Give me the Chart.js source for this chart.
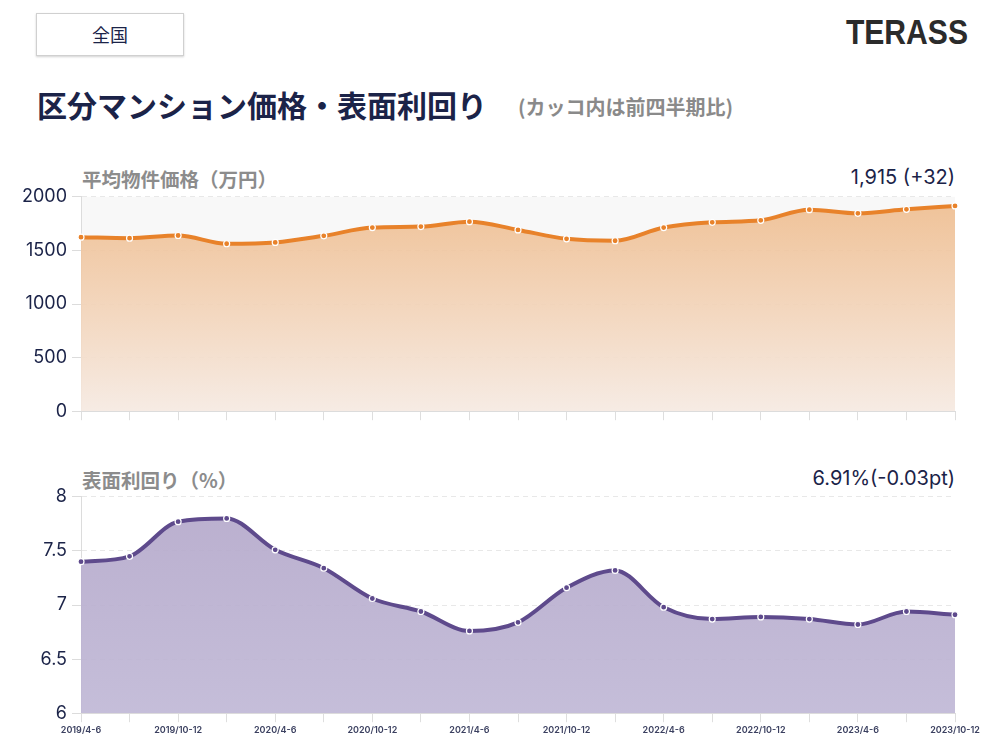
<!DOCTYPE html>
<html lang="ja">
<head>
<meta charset="utf-8">
<script src="https://cdn.jsdelivr.net/npm/chart.js@4.4.1/dist/chart.umd.min.js"></script>
<style>
  html, body { margin: 0; padding: 0; background: #fff; }
  body { width: 994px; height: 752px; position: relative; overflow: hidden;
         font-family: "Inter", "Noto Sans CJK JP", sans-serif; }
  .abs { position: absolute; white-space: nowrap; }
  #area { left: 36px; top: 13px; width: 146px; height: 41px; border: 1.5px solid #d0d0d0;
          box-shadow: 0 1px 2px rgba(0,0,0,0.18); text-align: center; line-height: 41px;
          font-size: 18px; color: #1b2348; font-family: "Noto Sans CJK JP", sans-serif; }
  #logo { right: 26px; top: 12px; font-family: "Liberation Sans", sans-serif; font-weight: bold;
          font-size: 35px; color: #2b2b2b; transform: scaleX(0.86); transform-origin: right; }
  #title { left: 37px; top: 82px; font-size: 30px; font-weight: bold; color: #1b2348;
           font-family: "Noto Sans CJK JP", sans-serif; }
  #sub { left: 518px; top: 92px; font-size: 20px; font-weight: bold; color: #8a8a8a;
         font-family: "Noto Sans CJK JP", sans-serif; }
  .stitle { left: 82px; font-size: 19.5px; font-weight: bold; color: #8c8c8c;
            font-family: "Noto Sans CJK JP", sans-serif; }
  .sval { right: 39px; font-size: 20px; color: #1b2348; }
  .wrap { position: absolute; left: 10px; width: 977px; }
</style>
</head>
<body>
<div class="abs" id="area">全国</div>
<div class="abs" id="logo">TERASS</div>
<div class="abs" id="title">区分マンション価格・表面利回り</div>
<div class="abs" id="sub">(カッコ内は前四半期比)</div>

<div class="abs stitle" style="top:164px">平均物件価格（万円）</div>
<div class="abs sval" style="top:165px">1,915 (+32)</div>
<div class="wrap" style="top:181px;height:246px"><canvas id="priceChart"></canvas></div>

<div class="abs stitle" style="top:465px">表面利回り（%）</div>
<div class="abs sval" style="top:466px">6.91%(-0.03pt)</div>
<div class="wrap" style="top:481px;height:258px"><canvas id="yieldChart"></canvas></div>

<script>
// 四半期ラベル
const quarters = [
  '2019/4-6', '2019/7-9', '2019/10-12', '2020/1-3', '2020/4-6', '2020/7-9', '2020/10-12',
  '2021/1-3', '2021/4-6', '2021/7-9', '2021/10-12', '2022/1-3', '2022/4-6', '2022/7-9',
  '2022/10-12', '2023/1-3', '2023/4-6', '2023/7-9', '2023/10-12'
];

// 平均物件価格（万円）
const prices = [1623, 1614, 1639, 1562, 1574, 1636, 1713, 1722, 1768, 1691,
                1608, 1590, 1713, 1762, 1781, 1880, 1846, 1883, 1915];

// 表面利回り（%）
const yields = [7.40, 7.45, 7.77, 7.80, 7.51, 7.34, 7.06, 6.94, 6.76, 6.84,
                7.16, 7.32, 6.98, 6.87, 6.89, 6.87, 6.82, 6.94, 6.91];

const priceTicks = [0, 500, 1000, 1500, 2000];
const yieldTicks = [6, 6.5, 7, 7.5, 8];

const navy = '#1b2348';
const orange = '#e8822a';
const purple = '#5e4a8c';

// チャートエリアの背景
const areaBg = {
  id: 'areaBg',
  beforeDraw(chart, args, opts) {
    if (!opts.color) return;
    const { ctx, chartArea: a } = chart;
    ctx.save();
    ctx.fillStyle = opts.color;
    ctx.fillRect(a.left, a.top, a.right - a.left, a.bottom - a.top);
    ctx.restore();
  }
};

function makeOptions(tickList, showLabels, bg) {
  return {
    animation: false,
    responsive: true,
    maintainAspectRatio: false,
    layout: { padding: { top: 12, right: 32, left: 0, bottom: 0 } },
    plugins: {
      legend: { display: false },
      tooltip: { enabled: false },
      areaBg: { color: bg }
    },
    scales: {
      x: {
        grid: { drawOnChartArea: false, drawTicks: true, tickLength: 9, color: '#dedede' },
        border: { display: true, color: '#dcdcdc' },
        ticks: {
          display: showLabels,
          autoSkip: false,
          maxRotation: 0,
          minRotation: 0,
          padding: 3,
          color: '#3b4060',
          font: { family: 'Inter', size: 9, weight: '600' },
          callback: (v, i) => (i % 2 === 0 ? quarters[i] : '')
        }
      },
      y: {
        min: tickList[0],
        max: tickList[tickList.length - 1],
        afterFit: s => { s.width = 71; },
        afterBuildTicks: s => { s.ticks = tickList.map(v => ({ value: v })); },
        grid: { color: '#e8e8e8', tickLength: 9, tickColor: '#dcdcdc' },
        border: { display: true, color: '#dcdcdc', dash: [5, 4] },
        ticks: {
          padding: 5,
          color: navy,
          font: { family: 'Inter', size: 18 },
          callback: v => String(v)
        }
      }
    }
  };
}

new Chart(document.getElementById('priceChart'), {
  type: 'line',
  data: {
    labels: quarters,
    datasets: [{
      data: prices,
      borderColor: orange,
      borderWidth: 4,
      cubicInterpolationMode: 'monotone',
      fill: 'origin',
      pointRadius: 3,
      pointBorderWidth: 1.2,
      pointBorderColor: '#fff',
      pointBackgroundColor: orange,
      backgroundColor: (c) => {
        const a = c.chart.chartArea;
        if (!a) return 'rgba(240,192,150,0.9)';
        const g = c.chart.ctx.createLinearGradient(0, a.top, 0, a.bottom);
        g.addColorStop(0, 'rgba(238,184,134,0.85)');
        g.addColorStop(1, 'rgba(246,234,226,0.9)');
        return g;
      }
    }]
  },
  options: makeOptions(priceTicks, false, '#f8f8f8'),
  plugins: [areaBg]
});

new Chart(document.getElementById('yieldChart'), {
  type: 'line',
  data: {
    labels: quarters,
    datasets: [{
      data: yields,
      borderColor: purple,
      borderWidth: 4,
      cubicInterpolationMode: 'monotone',
      fill: 'start',
      pointRadius: 3,
      pointBorderWidth: 1.2,
      pointBorderColor: '#fff',
      pointBackgroundColor: purple,
      backgroundColor: (c) => {
        const a = c.chart.chartArea;
        if (!a) return 'rgba(184,174,205,0.95)';
        const g = c.chart.ctx.createLinearGradient(0, a.top, 0, a.bottom);
        g.addColorStop(0, 'rgba(180,168,202,0.92)');
        g.addColorStop(1, 'rgba(192,184,214,0.92)');
        return g;
      }
    }]
  },
  options: makeOptions(yieldTicks, true, null),
  plugins: [areaBg]
});
</script>
</body>
</html>
